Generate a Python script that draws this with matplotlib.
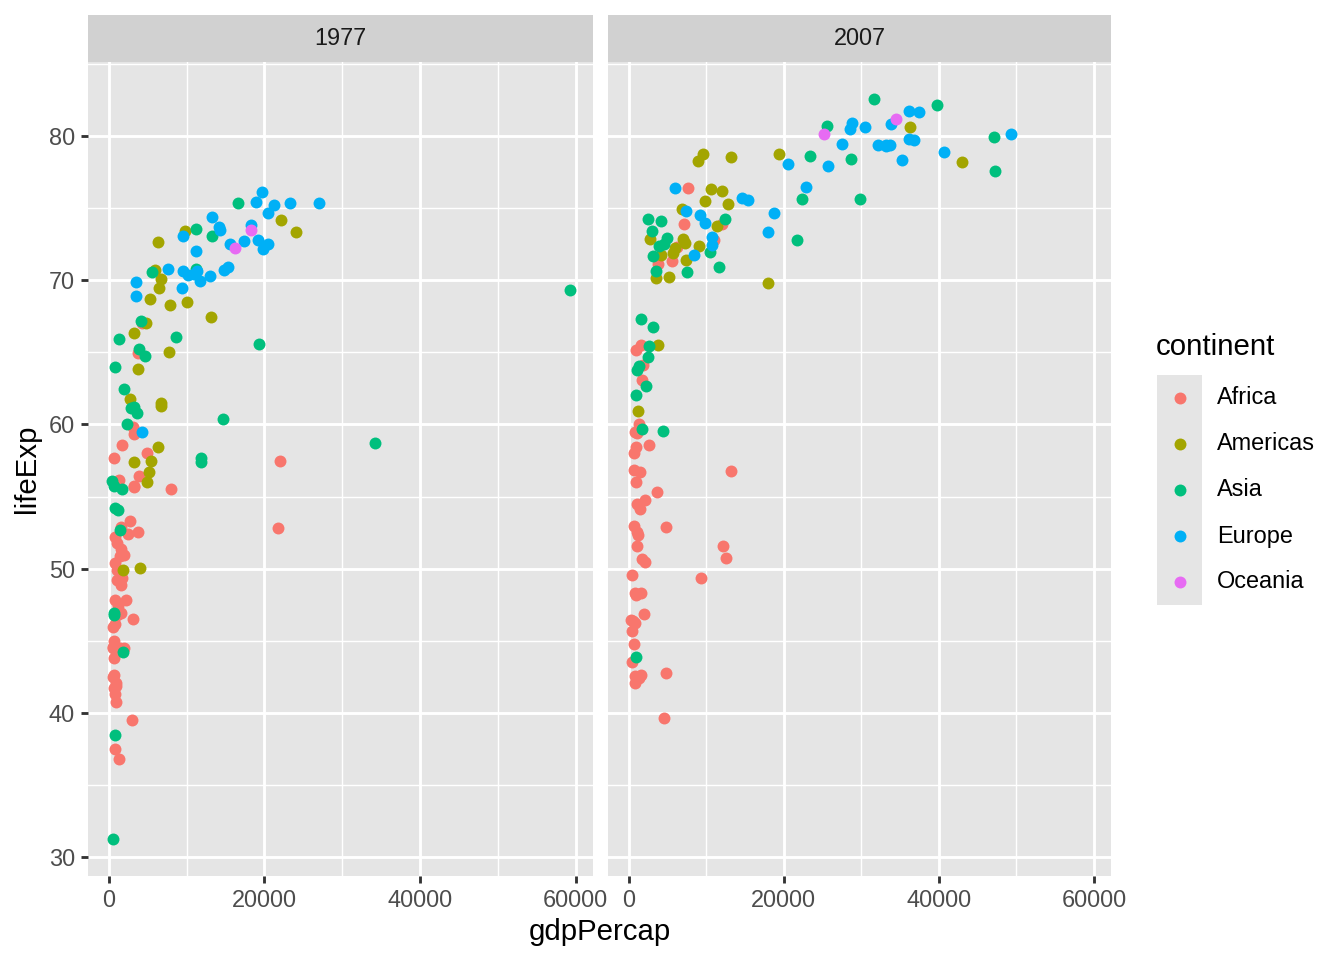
import matplotlib
matplotlib.use("Agg")
import matplotlib.pyplot as plt

plt.rcParams['font.family'] = ['Liberation Sans', 'DejaVu Sans']

continents = ['Africa', 'Americas', 'Asia', 'Europe', 'Oceania']
colors = ['#F8766D', '#A3A500', '#00BF7D', '#00B0F6', '#E76BF3']
years = ['1977', '2007']

# ---- 1977 ----
africa_gdp_1977 = [4910.42, 3008.65, 1029.16, 3214.86, 743.39, 556.10, 1694.34, 1109.37, 1133.98,
                   1937.58, 795.76, 3259.18, 2517.74, 3081.76, 2785.49, 958.57, 505.75, 556.81,
                   21745.57, 884.76, 993.22, 874.69, 764.73, 1267.61, 745.37, 640.32, 21951.21,
                   1544.23, 663.22, 686.40, 1497.49, 3710.98, 3258.50, 502.32, 3876.49, 808.90,
                   1981.95, 4319.80, 670.08, 1737.56, 1561.77, 1348.29, 1450.99, 8028.65, 2202.99,
                   3781.41, 1029.90, 1532.78, 3120.88, 843.73, 1588.69, 685.59]
africa_life_1977 = [58.01, 39.48, 49.19, 59.32, 46.14, 45.91, 49.36, 46.78, 47.38,
                    50.94, 47.80, 55.63, 52.37, 46.52, 53.32, 42.02, 44.54, 44.51,
                    52.79, 41.84, 51.76, 40.76, 37.47, 56.16, 52.21, 42.61, 57.44,
                    46.88, 43.77, 41.71, 50.85, 64.93, 55.73, 42.50, 56.44, 41.29,
                    44.51, 67.06, 45.00, 58.55, 48.88, 36.79, 44.50, 55.53, 47.80,
                    52.54, 49.92, 52.89, 59.84, 50.35, 51.39, 57.67]
americas_gdp_1977 = [10079.03, 3968.83, 6660.12, 22090.88, 4756.76, 3815.81, 5926.88, 6380.49,
                     2731.00, 6679.62, 5138.92, 4879.99, 1874.30, 3203.21, 6650.20, 7674.93,
                     5486.37, 5351.91, 3248.37, 6281.29, 9770.52, 7899.55, 24072.63, 6504.34,
                     13143.95]
americas_life_1977 = [68.48, 50.02, 61.49, 74.21, 67.05, 63.84, 70.75, 72.65,
                      61.79, 61.31, 56.70, 56.03, 49.92, 57.40, 70.11, 65.03,
                      57.47, 68.68, 66.35, 58.45, 73.44, 68.30, 73.38, 69.48,
                      67.46]
asia_gdp_1977 = [786.11, 19340.13, 659.88, 524.97, 741.24, 11186.14, 813.34, 1382.70, 11888.60,
                 14688.24, 13306.62, 16610.38, 2852.35, 4106.30, 4657.22, 59265.48, 8659.70,
                 3827.92, 1647.51, 371.00, 694.11, 11848.34, 1175.92, 2373.20, 34167.76,
                 11210.09, 1348.78, 3195.48, 5596.52, 1961.22, 713.54, 3682.83, 1829.77]
asia_life_1977 = [38.44, 65.59, 46.92, 31.22, 63.97, 73.60, 54.21, 52.70, 57.70,
                  60.41, 73.06, 75.38, 61.13, 67.16, 64.77, 69.34, 66.10,
                  65.26, 55.49, 56.06, 46.75, 57.37, 54.04, 60.06, 58.69,
                  70.80, 65.95, 61.20, 70.59, 62.49, 55.76, 60.77, 44.18]
europe_gdp_1977 = [3533.00, 19749.42, 19117.97, 3528.48, 7612.24, 11305.39, 14800.16, 20422.90,
                   15605.42, 18292.64, 20512.92, 14195.52, 11674.84, 19654.96, 11150.98, 14255.98,
                   9595.93, 21209.06, 23311.35, 9508.14, 10172.49, 9356.40, 12980.67, 10922.66,
                   15277.03, 13236.92, 18855.73, 26982.29, 4269.12, 17428.75]
europe_life_1977 = [68.93, 72.17, 72.80, 69.86, 70.81, 70.64, 70.71, 74.69,
                    72.52, 73.83, 72.50, 73.68, 69.95, 76.11, 72.03, 73.48,
                    73.07, 75.24, 75.37, 70.67, 70.41, 69.46, 70.30, 70.45,
                    70.97, 74.39, 75.44, 75.39, 59.51, 72.76]
oceania_gdp_1977 = [18334.20, 16233.72]
oceania_life_1977 = [73.49, 72.22]

# ---- 2007 ----
africa_gdp_2007 = [6223.37, 4797.23, 1441.28, 12569.85, 1217.03, 430.07, 2042.10, 706.02, 1704.06,
                   986.15, 277.55, 3632.56, 1544.75, 2082.48, 5581.18, 12154.09, 641.37, 690.81,
                   13206.48, 752.75, 1327.61, 942.65, 579.23, 1463.25, 1569.33, 414.51, 12057.50,
                   1044.77, 759.35, 1042.58, 1803.15, 10956.99, 3820.18, 823.69, 4811.06, 619.68,
                   2013.98, 7670.12, 863.09, 1598.44, 1712.47, 862.54, 926.14, 9269.66, 2602.39,
                   4513.48, 1107.48, 882.97, 7092.92, 1056.38, 1271.21, 469.71]
africa_life_2007 = [72.30, 42.73, 56.73, 50.73, 52.30, 49.58, 50.43, 44.74, 50.65,
                    65.15, 46.46, 55.32, 48.33, 54.79, 71.34, 51.58, 58.04, 52.95,
                    56.74, 59.45, 60.02, 56.01, 46.39, 54.11, 42.59, 45.68, 73.95,
                    59.44, 48.30, 54.47, 64.16, 72.80, 71.16, 42.08, 52.91, 56.87,
                    46.86, 76.44, 46.24, 65.53, 63.06, 42.57, 48.16, 49.34, 58.56,
                    39.61, 52.52, 58.42, 73.92, 51.54, 42.38, 43.49]
americas_gdp_2007 = [12779.38, 3822.14, 9065.80, 36319.24, 13171.64, 7006.58, 9645.06, 8948.10,
                     6025.37, 6873.26, 5728.35, 5186.05, 1201.64, 3548.33, 7320.88, 11977.57,
                     2749.32, 9809.19, 4172.84, 7408.91, 19328.71, 18008.51, 42951.65, 10611.46,
                     11415.81]
americas_life_2007 = [75.32, 65.55, 72.39, 80.65, 78.55, 72.89, 78.78, 78.27,
                      72.24, 74.99, 71.88, 70.26, 60.92, 70.20, 72.57, 76.20,
                      72.90, 75.54, 71.75, 71.42, 78.75, 69.82, 78.24, 76.38,
                      73.75]
asia_gdp_2007 = [974.58, 29796.05, 1391.25, 1713.78, 4959.11, 39724.98, 2452.21, 3540.65, 11605.71,
                 4471.06, 25523.28, 31656.07, 4519.46, 1593.07, 23348.14, 47306.99, 10461.06,
                 12451.66, 3095.77, 944.00, 1091.36, 22316.19, 2605.95, 3190.48, 21654.83,
                 47143.18, 3970.10, 4184.55, 28718.28, 7458.40, 2441.58, 3025.35, 2280.77]
asia_life_2007 = [43.83, 75.64, 64.06, 59.72, 72.96, 82.21, 64.70, 70.65, 70.96,
                  59.55, 80.75, 82.60, 72.54, 67.30, 78.62, 77.59, 71.99,
                  74.24, 66.80, 62.07, 63.79, 75.64, 65.48, 71.69, 72.78,
                  79.97, 72.40, 74.14, 78.40, 70.62, 74.25, 73.42, 62.70]
europe_gdp_2007 = [5937.03, 36126.49, 33692.61, 7446.30, 10680.79, 14619.22, 22833.31, 35278.42,
                   33207.08, 30470.02, 32170.37, 27538.41, 18008.94, 36180.79, 40675.00, 28569.72,
                   9253.90, 36797.93, 49357.19, 15389.92, 20509.65, 10808.48, 9786.53, 18678.31,
                   25768.26, 28821.06, 33859.75, 37506.42, 8458.28, 33203.26]
europe_life_2007 = [76.42, 79.83, 79.44, 74.85, 73.01, 75.75, 76.49, 78.33,
                    79.31, 80.66, 79.41, 79.48, 73.34, 81.76, 78.89, 80.55,
                    74.54, 79.76, 80.20, 75.56, 78.10, 72.48, 74.00, 74.66,
                    77.93, 80.94, 80.88, 81.70, 71.78, 79.43]
oceania_gdp_2007 = [34435.37, 25185.01]
oceania_life_2007 = [81.24, 80.20]

gdp = {
    '1977': [africa_gdp_1977, americas_gdp_1977, asia_gdp_1977, europe_gdp_1977, oceania_gdp_1977],
    '2007': [africa_gdp_2007, americas_gdp_2007, asia_gdp_2007, europe_gdp_2007, oceania_gdp_2007],
}
life = {
    '1977': [africa_life_1977, americas_life_1977, asia_life_1977, europe_life_1977, oceania_life_1977],
    '2007': [africa_life_2007, americas_life_2007, asia_life_2007, europe_life_2007, oceania_life_2007],
}

# shared scales with ggplot's 5% expansion
all_x = [v for yr in years for lst in gdp[yr] for v in lst]
all_y = [v for yr in years for lst in life[yr] for v in lst]
xpad = (max(all_x) - min(all_x)) * 0.05
ypad = (max(all_y) - min(all_y)) * 0.05
xlim = (min(all_x) - xpad, max(all_x) + xpad)
ylim = (min(all_y) - ypad, max(all_y) + ypad)

W, H = 1344, 960
fig = plt.figure(figsize=(7, 5), dpi=192)

panel_bg = '#E5E5E5'
strip_bg = '#D1D1D1'
tick_col = '#4D4D4D'
pt_size = 20

panels = [(88, 593), (608, 1111)]
top, bottom = 62, 876
strip_top = 15

for i, yr in enumerate(years):
    x0, x1 = panels[i]
    ax = fig.add_axes([x0 / W, 1 - bottom / H, (x1 - x0) / W, (bottom - top) / H])
    ax.set_facecolor(panel_bg)
    for s in ax.spines.values():
        s.set_visible(False)
    ax.set_xlim(xlim)
    ax.set_ylim(ylim)
    ax.set_xticks([0, 20000, 40000, 60000])
    ax.set_xticks([10000, 30000, 50000], minor=True)
    ax.set_yticks([30, 40, 50, 60, 70, 80])
    ax.set_yticks([35, 45, 55, 65, 75, 85], minor=True)
    ax.grid(which='major', color='white', linewidth=1.07)
    ax.grid(which='minor', color='white', linewidth=0.53)
    ax.set_axisbelow(True)
    ax.tick_params(which='major', length=2.75, width=1.07, color='#333333',
                   labelcolor=tick_col, labelsize=8.8, pad=2.2)
    ax.tick_params(which='minor', length=0)
    if i > 0:
        ax.tick_params(axis='y', which='major', left=False, labelleft=False)

    for c, col in enumerate(continents):
        ax.scatter(gdp[yr][c], life[yr][c], s=pt_size, color=colors[c], linewidths=0, zorder=3)

    # facet strip
    sax = fig.add_axes([x0 / W, 1 - top / H, (x1 - x0) / W, (top - strip_top) / H])
    sax.set_facecolor(strip_bg)
    sax.set_xticks([])
    sax.set_yticks([])
    for s in sax.spines.values():
        s.set_visible(False)
    sax.text(0.5, 0.5, yr, ha='center', va='center', fontsize=8.8, color='#1A1A1A',
             transform=sax.transAxes)

fig.text((88 + 1111) / 2 / W, 1 - 932 / H, 'gdpPercap', ha='center', va='center', fontsize=11)
fig.text(27 / W, 1 - 469 / H, 'lifeExp', ha='center', va='center', fontsize=11, rotation=90)

# legend
fig.text(1156 / W, 1 - 347 / H, 'continent', ha='left', va='center', fontsize=11)
lax = fig.add_axes([1157 / W, 1 - 605 / H, 45 / W, 230 / H])
lax.set_facecolor(panel_bg)
lax.set_xlim(0, 1)
lax.set_ylim(-0.5, 4.5)
lax.set_xticks([])
lax.set_yticks([])
for s in lax.spines.values():
    s.set_visible(False)
for c, col in enumerate(continents):
    lax.scatter([0.5], [4 - c], s=pt_size, color=colors[c], linewidths=0)
    fig.text(1217 / W, 1 - (398 + 46 * c) / H, col, ha='left', va='center', fontsize=8.8)

fig.savefig('out.png', dpi=192)
